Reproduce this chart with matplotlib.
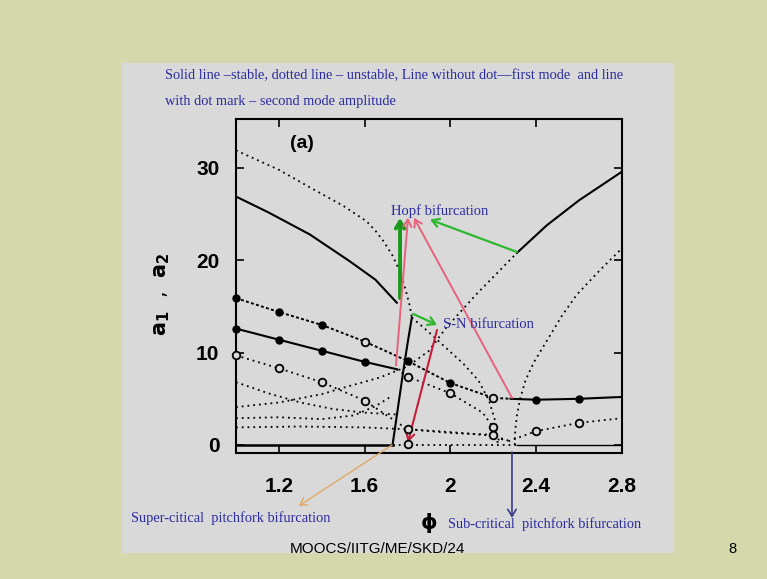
import matplotlib.pyplot as plt
from matplotlib.patches import Rectangle

# ---- first mode (a1), no markers ----
phi_a1_top_solid = [1.0, 1.15, 1.344, 1.53, 1.65, 1.75]
a1_top_solid = [26.9, 25.2, 22.8, 19.9, 17.9, 15.4]
phi_a1_top_dot = [1.0, 1.2, 1.344, 1.5, 1.61, 1.65, 1.69, 1.73, 1.76, 1.79, 1.81, 1.82]
a1_top_dot = [31.9, 29.8, 27.9, 25.9, 24.2, 23.2, 22.0, 20.5, 19.0, 16.9, 15.1, 13.8]
phi_a1_steep = [1.73, 1.755, 1.78, 1.80, 1.82]
a1_steep = [0.0, 4.0, 8.0, 11.0, 13.8]
phi_a1_sn_down = [1.82, 1.9, 1.98, 2.06, 2.13, 2.18, 2.21, 2.22]
a1_sn_down = [13.8, 12.2, 10.5, 8.8, 7.0, 4.8, 2.5, 0.2]
phi_a1_rise = [1.0, 1.2, 1.4, 1.5, 1.67, 1.8, 1.9, 1.98, 2.12, 2.31]
a1_rise = [4.1, 4.6, 5.5, 6.2, 7.3, 8.5, 10.2, 12.7, 16.3, 20.8]
phi_a1_right = [2.31, 2.45, 2.6, 2.8]
a1_right = [20.8, 23.8, 26.5, 29.6]
phi_a1_sub = [2.30, 2.302, 2.31, 2.325, 2.35, 2.39, 2.45, 2.52, 2.59, 2.7, 2.8]
a1_sub = [0.0, 1.5, 3.2, 5.0, 7.0, 9.0, 11.3, 14.0, 16.3, 19.0, 21.3]
phi_low_a = [1.0, 1.15, 1.3, 1.45, 1.6, 1.75]
a_low_a = [6.8, 5.6, 4.6, 3.9, 3.5, 3.3]
phi_low_b = [1.0, 1.2, 1.4, 1.55, 1.65, 1.72]
a_low_b = [2.9, 3.0, 2.8, 3.2, 4.2, 5.2]
phi_low_c = [1.0, 1.3, 1.6, 1.8, 2.0, 2.2, 2.28]
a_low_c = [1.9, 2.0, 1.9, 1.7, 1.4, 1.0, 0.4]

# ---- second mode (a2), with markers ----
phi_a2_A = [1.0, 1.2, 1.4, 1.6, 1.8, 2.0, 2.2, 2.28]
a2_A = [15.9, 14.4, 13.0, 11.2, 9.1, 6.7, 5.1, 5.0]
phi_a2_B_solid = [1.0, 1.2, 1.4, 1.6, 1.75]
a2_B_solid = [12.6, 11.4, 10.2, 9.0, 8.2]
phi_a2_B_dot = [1.75, 1.8, 2.0, 2.15, 2.2, 2.23]
a2_B_dot = [8.2, 7.4, 5.6, 3.5, 1.9, 0.3]
phi_a2_C = [1.0, 1.2, 1.4, 1.6, 1.8, 2.0, 2.2, 2.25]
a2_C = [9.7, 8.3, 6.8, 4.8, 1.7, 1.3, 1.1, 0.5]
phi_a2_right_solid = [2.28, 2.4, 2.6, 2.8]
a2_right_solid = [5.0, 4.9, 5.0, 5.2]
phi_a2_right_dot = [2.27, 2.4, 2.6, 2.8]
a2_right_dot = [0.4, 1.5, 2.4, 2.9]

phi_mark_filled = [1.0, 1.2, 1.4, 1.0, 1.2, 1.4, 1.6, 1.8, 2.0, 2.4, 2.6]
a2_mark_filled = [15.9, 14.4, 13.0, 12.6, 11.4, 10.2, 9.0, 9.1, 6.7, 4.9, 5.0]
phi_mark_hollow = [1.0, 1.2, 1.4, 1.6, 1.6, 1.8, 1.8, 1.8, 2.0, 2.2, 2.2, 2.2, 2.4, 2.6]
a2_mark_hollow = [9.7, 8.3, 6.8, 11.2, 4.8, 7.4, 1.7, 0.1, 5.6, 5.1, 1.9, 1.1, 1.5, 2.4]

xtick_vals = [1.2, 1.6, 2.0, 2.4, 2.8]
xtick_labels = ['1.2', '1.6', '2', '2.4', '2.8']
ytick_vals = [0, 10, 20, 30]

W, H = 767, 579
def fx(px):
    return px / W
def fy(py):
    return 1 - py / H

SLIDE = '#d5d8ab'
PANEL = '#d9d9d9'
BLUE = '#2a2aa0'
SERIF = ['Liberation Serif', 'DejaVu Serif']
NARROW = ['Liberation Sans Narrow', 'Liberation Sans', 'DejaVu Sans']

fig = plt.figure(figsize=(W / 100, H / 100), dpi=100, facecolor=SLIDE)
fig.patches.append(Rectangle((fx(122), fy(552)), 551 / W, 489 / H,
                             transform=fig.transFigure, color=PANEL, zorder=-10))

ax = fig.add_axes([fx(236), fy(453), 386 / W, 334 / H])
ax.set_facecolor(PANEL)
ax.set_xlim(1.0, 2.8)
ax.set_ylim(-0.87, 35.3)

dot = dict(color='black', ls=(0, (1, 2.2)), lw=1.3)
dense = dict(color='black', ls=(0, (1.5, 1.2)), lw=1.4)
solid = dict(color='black', lw=1.5)

# baseline a = 0
ax.plot([1.0, 1.73], [0, 0], color='black', lw=1.8)
ax.plot([1.73, 2.31], [0, 0], **dot)
ax.plot([2.31, 2.8], [0, 0], color='black', lw=1.0)

ax.plot(phi_a1_top_solid, a1_top_solid, **solid)
ax.plot(phi_a1_top_dot, a1_top_dot, **dot)
ax.plot(phi_a1_steep, a1_steep, **solid)
ax.plot(phi_a1_sn_down, a1_sn_down, **dot)
ax.plot(phi_a1_rise, a1_rise, **dot)
ax.plot(phi_a1_right, a1_right, **solid)
ax.plot(phi_a1_sub, a1_sub, **dot)
ax.plot(phi_low_a, a_low_a, **dot)
ax.plot(phi_low_b, a_low_b, **dot)
ax.plot(phi_low_c, a_low_c, **dot)

ax.plot(phi_a2_A, a2_A, **dense)
ax.plot(phi_a2_B_solid, a2_B_solid, **solid)
ax.plot(phi_a2_B_dot, a2_B_dot, **dot)
ax.plot(phi_a2_C, a2_C, **dot)
ax.plot(phi_a2_right_solid, a2_right_solid, **solid)
ax.plot(phi_a2_right_dot, a2_right_dot, **dot)

ax.plot(phi_mark_filled, a2_mark_filled, 'o', color='black', ms=5, zorder=4, clip_on=False)
ax.plot(phi_mark_hollow, a2_mark_hollow, 'o', mfc=PANEL, mec='black', mew=1.3, ms=5.5,
        zorder=4, clip_on=False)

for s in ax.spines.values():
    s.set_linewidth(1.5)
ax.set_xticks(xtick_vals)
ax.set_xticklabels(xtick_labels)
ax.set_yticks(ytick_vals)
ax.tick_params(direction='in', length=6, width=1.2, top=True, right=True)
ax.tick_params(axis='x', pad=17)
ax.tick_params(axis='y', pad=12)
for lab in ax.get_xticklabels() + ax.get_yticklabels():
    lab.set_family(NARROW)
    lab.set_fontweight('bold')
    lab.set_fontsize(15)

ax.text(1.25, 32.2, '(a)', fontsize=14, fontweight='bold', family=NARROW)
fig.text(fx(162), fy(294), r'$\mathbf{a_1}$  ,  $\mathbf{a_2}$', rotation=90,
         fontsize=15, ha='center', va='center')

# annotations
def arrow(x0, y0, x1, y1, color, lw):
    ax.annotate('', xy=(x1, y1), xytext=(x0, y0), annotation_clip=False,
                arrowprops=dict(arrowstyle='->,head_length=0.5,head_width=0.3',
                                color=color, lw=lw, shrinkA=0, shrinkB=0))

arrow(1.765, 15.9, 1.765, 24.6, '#1a9a1a', 2.8)
arrow(2.31, 20.9, 1.905, 24.4, '#2db82d', 1.6)
arrow(1.746, 8.6, 1.802, 24.6, '#e8627c', 1.4)
arrow(2.287, 5.1, 1.83, 24.6, '#e8627c', 1.4)
arrow(1.826, 14.2, 1.9375, 13.0, '#2db82d', 1.6)
arrow(1.9375, 12.46, 1.802, 0.3, '#c41e3a', 1.5)
arrow(1.728, 0.0, 1.293, -6.6, '#e0a868', 1.0)
arrow(2.287, -0.76, 2.287, -7.9, '#3a3a8a', 1.2)

ax.text(1.951, 25.35, 'Hopf bifurcation', family=SERIF, fontsize=10.5, color=BLUE,
        ha='center', va='center')
ax.text(1.965, 13.0, 'S-N bifurcation', family=SERIF, fontsize=10.5, color=BLUE,
        ha='left', va='center')

fig.text(fx(165), fy(76), 'Solid line \u2013stable, dotted line \u2013 unstable, Line without dot\u2014first mode  and line',
         family=SERIF, fontsize=10.4, color=BLUE, va='center')
fig.text(fx(165), fy(101), 'with dot mark \u2013 second mode amplitude',
         family=SERIF, fontsize=10.4, color=BLUE, va='center')
fig.text(fx(131), fy(518), 'Super-citical  pitchfork bifurcation',
         family=SERIF, fontsize=10.4, color=BLUE, va='center')
fig.text(fx(448), fy(524), 'Sub-critical  pitchfork bifurcation',
         family=SERIF, fontsize=10.4, color=BLUE, va='center')
fig.text(fx(429), fy(523), '\u03d5', fontsize=15, fontweight='bold', ha='center', va='center')
fig.text(fx(377), fy(549), 'MOOCS/IITG/ME/SKD/24', family=NARROW, fontsize=11,
         ha='center', va='center')
fig.text(fx(732), fy(549), '8', family=NARROW, fontsize=10.5, ha='center', va='center')

fig.savefig('out.png', dpi=100, facecolor=SLIDE)
